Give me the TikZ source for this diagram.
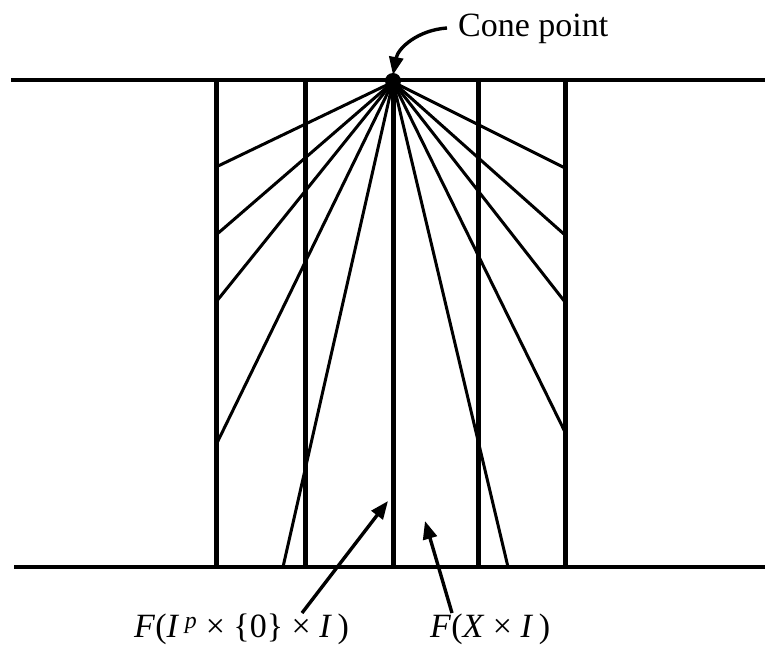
\documentclass[tikz,border=0pt]{standalone}
\usepackage{fontspec}
\setmainfont{Liberation Serif}
\usetikzlibrary{arrows.meta}
\begin{document}
\begin{tikzpicture}[x=1bp,y=-1bp,
  hline/.style={line width=4.5bp},
  vline/.style={line width=5bp},
  ray/.style={line width=3bp},
  pointer/.style={line width=3.4bp,-{Triangle[length=18bp,width=14bp]}},
  lbl/.style={inner sep=0pt,anchor=base west,font=\fontsize{34bp}{40bp}\selectfont}]
\useasboundingbox (0,0) rectangle (765,645);
% horizontal lines
\coordinate (TL) at (11,80);  \coordinate (TR) at (765,80);
\coordinate (BL) at (14,567); \coordinate (BR) at (765,567);
\draw[hline] (TL) -- (TR);
\draw[hline] (BL) -- (BR);
% cone point
\coordinate (C) at (393,82);
% verticals
\foreach \n/\x in {a/216,b/305,c/393,d/478,e/565}{
  \coordinate (\n t) at (\x,80);
  \coordinate (\n b) at (\x,567);
  \draw[vline] (\n t) -- (\n b);
}
% rays
\foreach \n/\x/\y in {r1/216/167,r2/216/235,r3/216/302,r4/216/445,r5/283/567,
                      s1/565/168,s2/565/235,s3/565/302,s4/565/432,s5/508/567}{
  \coordinate (\n) at (\x,\y);
  \draw[ray] (C) -- (\n);
}
\fill (393,81) circle (8bp);
% labels
\node[lbl] (cone) at (458,37) {Cone point};
\node[lbl] (l1) at (134,637) {\textit{F}(\textit{I}\,\textsuperscript{\textit{p}}\ ×\ \{0\}\ ×\ \textit{I}\,)};
\node[lbl] (l2) at (430,637) {\textit{F}(\textit{X}\ ×\ \textit{I}\,)};
% pointers
\coordinate (ct) at (447,28);
\coordinate (ch) at (393,75);
\draw[pointer] (ct) .. controls (418,30) and (398,48) .. (ch);
\coordinate (p1t) at (302,613); \coordinate (p1h) at (388,501);
\coordinate (p2t) at (452,613); \coordinate (p2h) at (425,521);
\draw[pointer] (p1t) -- (p1h);
\draw[pointer] (p2t) -- (p2h);
\end{tikzpicture}
\end{document}
